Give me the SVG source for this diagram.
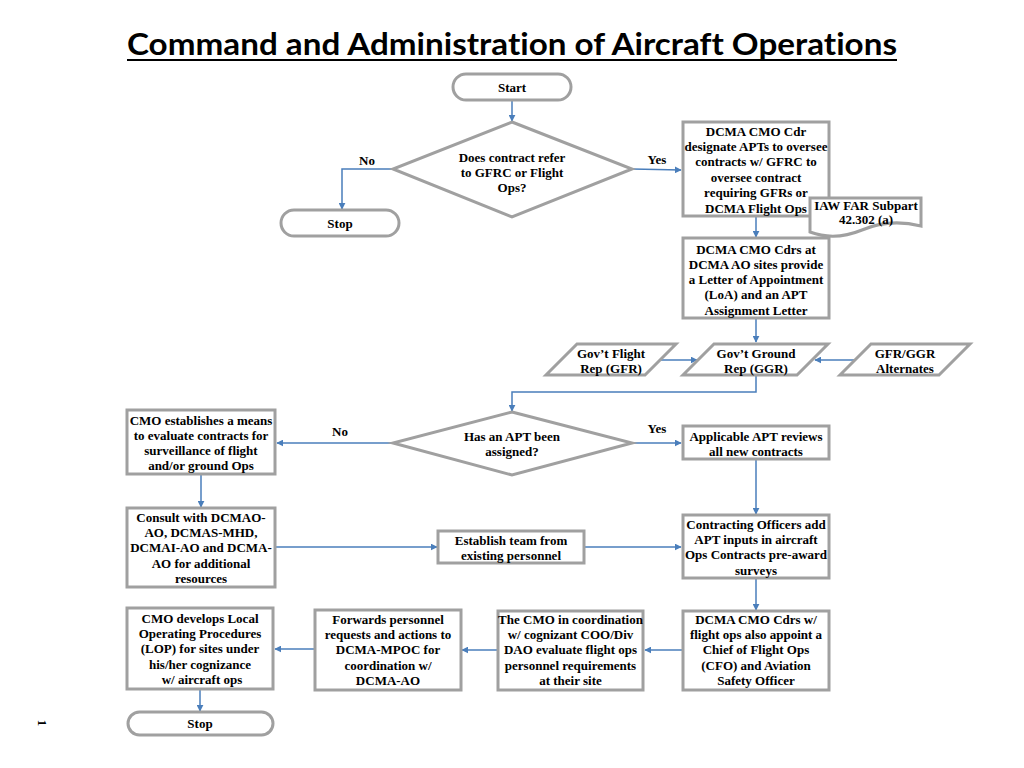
<svg xmlns="http://www.w3.org/2000/svg" width="1024" height="768" viewBox="0 0 1024 768">
<defs>
<marker id="ah" viewBox="0 0 10 10" refX="9" refY="5" markerWidth="7" markerHeight="7" markerUnits="userSpaceOnUse" orient="auto">
<path d="M0,0 L10,5 L0,10 Z" fill="#4a7ebb"/>
</marker>
<style>
.sh{fill:#fff;stroke:#a0a0a0;stroke-width:3}
.t{font-family:"Liberation Serif","Times New Roman",serif;font-weight:bold;font-size:13px;fill:#000;text-anchor:middle}
.c{fill:none;stroke:#4a7ebb;stroke-width:1.5}
.ca{fill:none;stroke:#4a7ebb;stroke-width:1.5;marker-end:url(#ah)}
.title{font-family:Lato,"Open Sans","Liberation Sans",sans-serif;font-weight:bold;font-size:30px;font-variant-ligatures:none;text-anchor:middle}
</style>
</defs>
<rect width="1024" height="768" fill="#fff"/>
<text class="title" x="512" y="55" textLength="770" lengthAdjust="spacingAndGlyphs">Command and Administration of Aircraft Operations</text>
<rect x="127" y="59" width="770" height="2" fill="#000"/>

<g id="connectors">
<path class="ca" d="M512,100 V121"/>
<path class="ca" d="M393,169 H342 V209"/>
<path class="ca" d="M632,169 L681,170"/>
<path class="ca" d="M756,216 V237"/>
<path class="ca" d="M756,318 V342"/>
<path class="ca" d="M660,360 H697"/>
<path class="ca" d="M855,360 H815"/>
<path class="ca" d="M756,375 V392 H512 V411"/>
<path class="ca" d="M632,443 H681"/>
<path class="ca" d="M393,443 H277"/>
<path class="ca" d="M756,459 V514"/>
<path class="ca" d="M201,474 V507"/>
<path class="ca" d="M275,547 H437"/>
<path class="ca" d="M584,547 H681"/>
<path class="ca" d="M756,578 V610"/>
<path class="ca" d="M683,650 H645"/>
<path class="ca" d="M498,650 H462"/>
<path class="ca" d="M315,649 H275"/>
<path class="ca" d="M200,689 V711"/>
<text class="t" x="367" y="165">No</text>
<text class="t" x="657" y="164">Yes</text>
<text class="t" x="340" y="436">No</text>
<text class="t" x="657" y="433">Yes</text>
</g>

<g id="start">
<rect class="sh" x="453" y="74" width="118" height="26" rx="13"/>
<text class="t" x="512" y="91.5">Start</text>
</g>

<g id="decision1">
<polygon class="sh" points="512,122 632,169 512,217 393,169"/>
<text class="t" x="512" y="161.5">Does contract refer<tspan x="512" dy="15.2">to GFRC or Flight</tspan><tspan x="512" dy="15.2">Ops?</tspan></text>
</g>

<g id="stop1">
<rect class="sh" x="281" y="210" width="118" height="26" rx="13"/>
<text class="t" x="340" y="227.5">Stop</text>
</g>

<g id="designate">
<rect class="sh" x="683" y="122" width="146" height="94"/>
<text class="t" x="756" y="135.5">DCMA CMO Cdr<tspan x="756" dy="15.4">designate APTs to oversee</tspan><tspan x="756" dy="15.4">contracts w/ GFRC to</tspan><tspan x="756" dy="15.4">oversee contract</tspan><tspan x="756" dy="15.4">requiring GFRs or</tspan><tspan x="756" dy="15.4">DCMA Flight Ops</tspan></text>
</g>

<g id="far">
<path class="sh" d="M810,198 H921 V226 C897,220 876,224 862,230 C845,237 826,238 810,232 Z"/>
<text class="t" x="866" y="209.5">IAW FAR Subpart<tspan x="866" dy="14.5">42.302 (a)</tspan></text>
</g>

<g id="loa">
<rect class="sh" x="683" y="238" width="146" height="80"/>
<text class="t" x="756" y="253.5">DCMA CMO Cdrs at<tspan x="756" dy="15.3">DCMA AO sites provide</tspan><tspan x="756" dy="15.3">a Letter of Appointment</tspan><tspan x="756" dy="15.3">(LoA) and an APT</tspan><tspan x="756" dy="15.3">Assignment Letter</tspan></text>
</g>

<g id="gfr">
<polygon class="sh" points="577,344 676,344 645,375 546,375"/>
<text class="t" x="611" y="358">Gov’t Flight<tspan x="611" dy="15.2">Rep (GFR)</tspan></text>
</g>

<g id="ggr">
<polygon class="sh" points="714,344 828,344 797,375 683,375"/>
<text class="t" x="756" y="358">Gov’t Ground<tspan x="756" dy="15.2">Rep (GGR)</tspan></text>
</g>

<g id="alternates">
<polygon class="sh" points="871,344 970,344 939,375 840,375"/>
<text class="t" x="905" y="358">GFR/GGR<tspan x="905" dy="15.2">Alternates</tspan></text>
</g>

<g id="decision2">
<polygon class="sh" points="512,412 632,443 512,475 393,443"/>
<text class="t" x="512" y="440.5">Has an APT been<tspan x="512" dy="15.2">assigned?</tspan></text>
</g>

<g id="establish-means">
<rect class="sh" x="127" y="410" width="148" height="64"/>
<text class="t" x="201" y="424.5">CMO establishes a means<tspan x="201" dy="15.3">to evaluate contracts for</tspan><tspan x="201" dy="15.3">surveillance of flight</tspan><tspan x="201" dy="15.3">and/or ground Ops</tspan></text>
</g>

<g id="apt-reviews">
<rect class="sh" x="683" y="426" width="146" height="33"/>
<text class="t" x="756" y="440.5">Applicable APT reviews<tspan x="756" dy="15.2">all new contracts</tspan></text>
</g>

<g id="consult">
<rect class="sh" x="127" y="508" width="148" height="79"/>
<text class="t" x="201" y="521.5">Consult with DCMAO-<tspan x="201" dy="15.4">AO, DCMAS-MHD,</tspan><tspan x="201" dy="15.4">DCMAI-AO and DCMA-</tspan><tspan x="201" dy="15.4">AO for additional</tspan><tspan x="201" dy="15.4">resources</tspan></text>
</g>

<g id="team">
<rect class="sh" x="438" y="531" width="146" height="32"/>
<text class="t" x="511" y="544.5">Establish team from<tspan x="511" dy="15.2">existing personnel</tspan></text>
</g>

<g id="contracting">
<rect class="sh" x="683" y="515" width="146" height="63"/>
<text class="t" x="756" y="528.5">Contracting Officers add<tspan x="756" dy="15.4">APT inputs in aircraft</tspan><tspan x="756" dy="15.4">Ops Contracts pre-award</tspan><tspan x="756" dy="15.4">surveys</tspan></text>
</g>

<g id="cfo">
<rect class="sh" x="683" y="611" width="146" height="79"/>
<text class="t" x="756" y="623.5">DCMA CMO Cdrs w/<tspan x="756" dy="15.4">flight ops also appoint a</tspan><tspan x="756" dy="15.4">Chief of Flight Ops</tspan><tspan x="756" dy="15.4">(CFO) and Aviation</tspan><tspan x="756" dy="15.4">Safety Officer</tspan></text>
</g>

<g id="coordination">
<rect class="sh" x="498" y="611" width="145" height="79"/>
<text class="t" x="570.5" y="623.5">The CMO in coordination<tspan x="570.5" dy="15.4">w/ cognizant COO/Div</tspan><tspan x="570.5" dy="15.4">DAO evaluate flight ops</tspan><tspan x="570.5" dy="15.4">personnel requirements</tspan><tspan x="570.5" dy="15.4">at their site</tspan></text>
</g>

<g id="forwards">
<rect class="sh" x="315" y="610" width="146" height="80"/>
<text class="t" x="388" y="623.5">Forwards personnel<tspan x="388" dy="15.4">requests and actions to</tspan><tspan x="388" dy="15.4">DCMA-MPOC for</tspan><tspan x="388" dy="15.4">coordination w/</tspan><tspan x="388" dy="15.4">DCMA-AO</tspan></text>
</g>

<g id="lop">
<rect class="sh" x="127" y="608" width="146" height="81"/>
<text class="t" x="200" y="622.5">CMO develops Local<tspan x="200" dy="15.4">Operating Procedures</tspan><tspan x="200" dy="15.4">(LOP) for sites under</tspan><tspan x="200" dy="15.4">his/her cognizance</tspan><tspan x="202" dy="15.4">w/ aircraft ops</tspan></text>
</g>

<g id="stop2">
<rect class="sh" x="128" y="712" width="145" height="23" rx="11.5"/>
<text class="t" x="200" y="728">Stop</text>
</g>

<text x="42" y="723" font-family="Liberation Serif, serif" font-weight="bold" font-size="13" text-anchor="middle" transform="rotate(90 42 723)" dy="4">1</text>
</svg>
